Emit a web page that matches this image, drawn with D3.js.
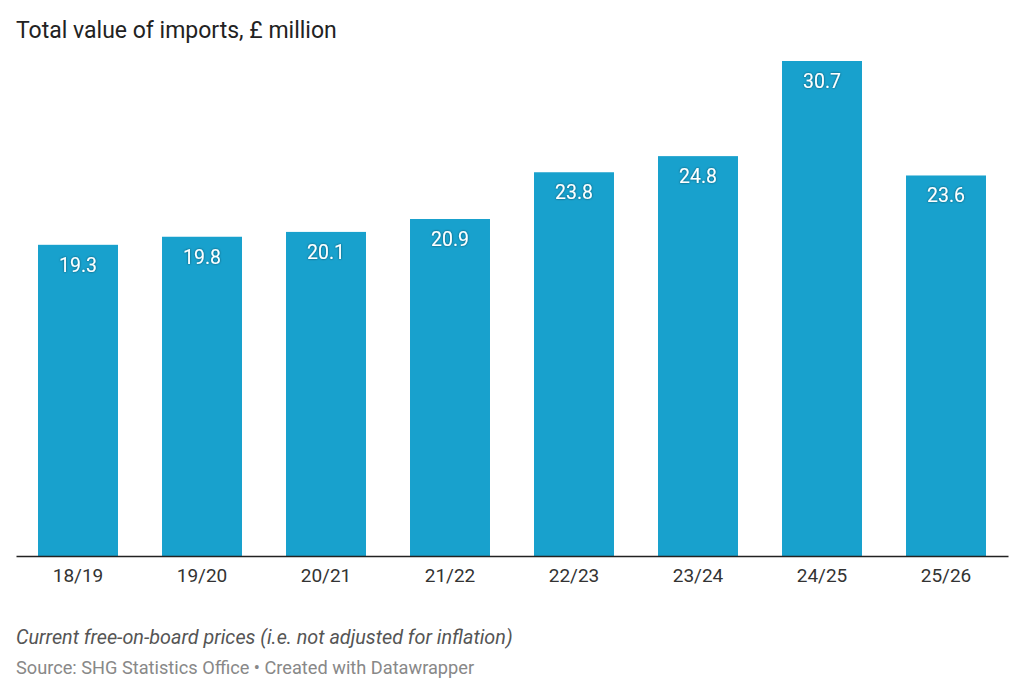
<!DOCTYPE html>
<meta charset="utf-8">
<body style="margin:0;background:#fff">
<svg width="1024" height="695"></svg>
<script src="https://cdnjs.cloudflare.com/ajax/libs/d3/7.8.5/d3.min.js"></script>
<script>

var years = ["18/19", "19/20", "20/21", "21/22", "22/23", "23/24", "24/25", "25/26"];
var imports = [19.3, 19.8, 20.1, 20.9, 23.8, 24.8, 30.7, 23.6];

var svg = d3.select("svg").style("font-family", "Roboto, sans-serif");
var margin = {top: 61, right: 16, bottom: 139, left: 16};
var width = +svg.attr("width") - margin.left - margin.right;
var height = +svg.attr("height") - margin.top - margin.bottom;
var g = svg.append("g").attr("transform", "translate(" + margin.left + "," + margin.top + ")");

var data = years.map((y, i) => ({year: y, value: imports[i]}));

var xScale = d3.scaleBand().domain(years).range([0, width]).paddingInner(0.355).paddingOuter(0.1775);
var yScale = d3.scaleLinear().domain([0, d3.max(imports)]).range([height, 0]);

var defs = svg.append("defs");
var f = defs.append("filter").attr("id", "shadow").attr("x", "-20%").attr("y", "-20%").attr("width", "140%").attr("height", "140%");
f.append("feDropShadow").attr("dx", 0).attr("dy", 0).attr("stdDeviation", 1.2)
  .attr("flood-color", "#000").attr("flood-opacity", 0.55);

svg.append("text")
  .attr("x", 16).attr("y", 38)
  .style("font-size", "23px").style("fill", "#222")
  .text("Total value of imports, £ million");

g.selectAll(".bar").data(data).enter().append("rect")
  .attr("class", "bar")
  .attr("x", d => xScale(d.year))
  .attr("y", d => yScale(d.value))
  .attr("width", xScale.bandwidth())
  .attr("height", d => height - yScale(d.value))
  .attr("fill", "#18a1cd");

g.selectAll(".label").data(data).enter().append("text")
  .attr("class", "label")
  .attr("x", d => xScale(d.year) + xScale.bandwidth() / 2)
  .attr("y", d => yScale(d.value) + 27)
  .attr("text-anchor", "middle")
  .attr("filter", "url(#shadow)")
  .style("font-size", "19.5px").style("fill", "#fff")
  .text(d => d.value.toFixed(1));

var xAxis = g.append("g")
  .attr("transform", "translate(0," + height + ")")
  .call(d3.axisBottom(xScale).tickSize(0).tickPadding(13));
xAxis.select(".domain").attr("stroke", "#222").attr("stroke-width", 1.5);
xAxis.selectAll("text").style("font-family", "Roboto, sans-serif").style("font-size", "19px").style("fill", "#333");

svg.append("text")
  .attr("x", 16).attr("y", 644)
  .style("font-size", "19.8px").style("font-style", "italic").style("fill", "#555")
  .text("Current free-on-board prices (i.e. not adjusted for inflation)");

svg.append("text")
  .attr("x", 16).attr("y", 674)
  .style("font-size", "18.2px").style("fill", "#888")
  .text("Source: SHG Statistics Office • Created with Datawrapper");

</script>
</body>
